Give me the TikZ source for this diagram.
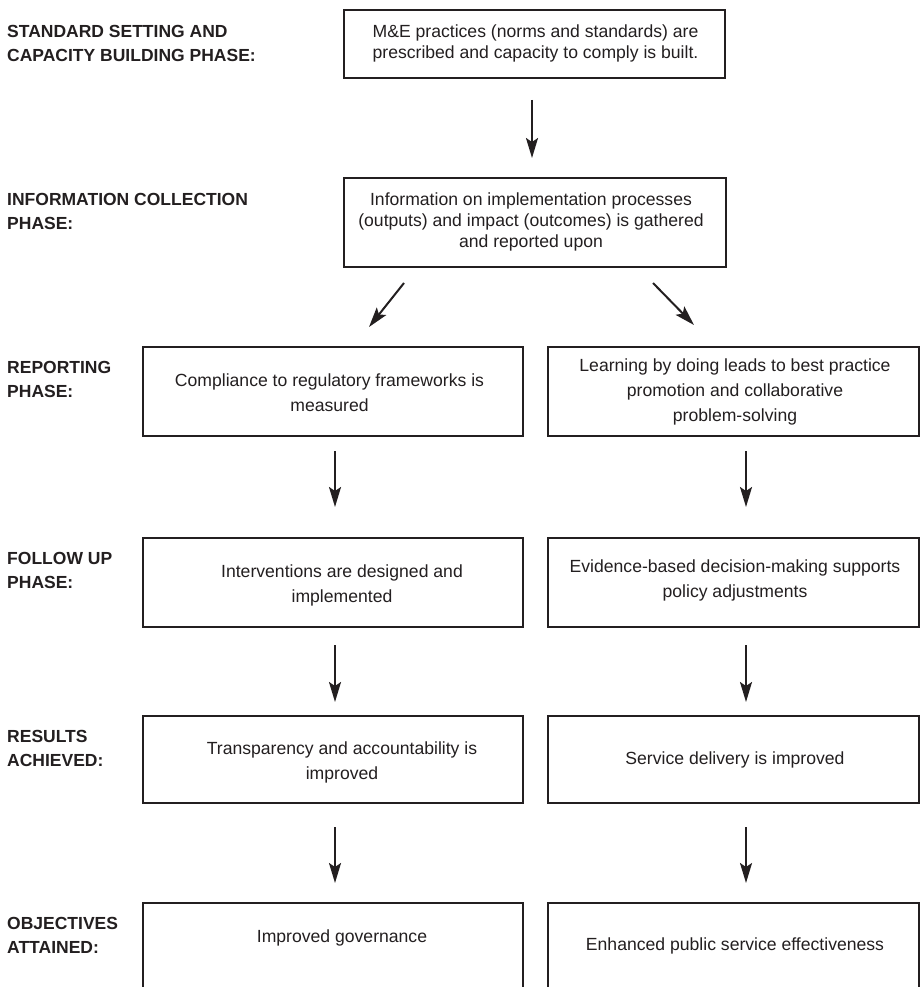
\documentclass[tikz,border=0pt]{standalone}
\usepackage{fontspec}
\setmainfont{Liberation Sans}
\usetikzlibrary{arrows.meta}
\definecolor{ink}{HTML}{231F20}
\begin{document}
\begin{tikzpicture}[x=1pt,y=-1pt,
  box/.style={draw=ink, line width=2.4pt, inner sep=0pt, outer sep=0pt, rectangle},
  txt/.style={align=center, inner sep=0pt, text=ink, font=\fontsize{17.6}{25}\selectfont},
  tighttxt/.style={txt, font=\fontsize{17.6}{21}\selectfont},
  lab/.style={anchor=north west, align=left, inner sep=0pt, text=ink, font=\bfseries\fontsize{17.5}{24.5}\selectfont},
  arr/.style={draw=ink, line width=2pt, -{Stealth[length=20pt,width=12pt,inset=4pt]}}]
\clip (0,0) rectangle (922,987);
\fill[white] (0,0) rectangle (922,987);

% phase labels
\node[lab] (l1) at (7,25) {STANDARD SETTING AND\\CAPACITY BUILDING PHASE:};
\node[lab] (l2) at (7,193) {INFORMATION COLLECTION\\PHASE:};
\node[lab] (l3) at (7,361) {REPORTING\\PHASE:};
\node[lab] (l4) at (7,552) {FOLLOW UP\\PHASE:};
\node[lab] (l5) at (7,730) {RESULTS\\ACHIEVED:};
\node[lab] (l6) at (7,917) {OBJECTIVES\\ATTAINED:};

% boxes
\node[box, minimum width=381pt, minimum height=68pt] (top) at (534.5,44) {};
\node[box, minimum width=382pt, minimum height=89pt] (info) at (535,222.5) {};
\node[box, minimum width=380pt, minimum height=89pt] (rep1) at (333,391.5) {};
\node[box, minimum width=371pt, minimum height=89pt] (rep2) at (733.5,391.5) {};
\node[box, minimum width=380pt, minimum height=89pt] (fu1) at (333,582.5) {};
\node[box, minimum width=371pt, minimum height=89pt] (fu2) at (733.5,582.5) {};
\node[box, minimum width=380pt, minimum height=87pt] (res1) at (333,759.5) {};
\node[box, minimum width=371pt, minimum height=87pt] (res2) at (733.5,759.5) {};
\node[box, minimum width=380pt, minimum height=110pt] (obj1) at (333,958) {};
\node[box, minimum width=371pt, minimum height=110pt] (obj2) at (733.5,958) {};

% texts
\node[tighttxt] (ttop) at (535.5,43.5) {M\&E practices (norms and standards) are\\prescribed and capacity to comply is built.};
\node[tighttxt] (tinfo) at (531,222) {Information on implementation processes\\(outputs) and impact (outcomes) is gathered\\and reported upon};
\node[txt] (trep1) at (329.5,393) {Compliance to regulatory frameworks is\\measured};
\node[txt] (trep2) at (735,392.3) {Learning by doing leads to best practice\\promotion and collaborative\\problem-solving};
\node[txt] (tfu1) at (342,585) {Interventions are designed and\\implemented};
\node[txt] (tfu2) at (735,580) {Evidence-based decision-making supports\\policy adjustments};
\node[txt] (tres1) at (342,762.5) {Transparency and accountability is\\improved};
\node[txt] (tres2) at (735,760) {Service delivery is improved};
\node[txt] (tobj1) at (342,937.5) {Improved governance};
\node[txt] (tobj2) at (735,945.5) {Enhanced public service effectiveness};

% arrows
\draw[arr, shorten <=22pt, shorten >=20pt] ([xshift=-2.5pt]top.south) -- ([xshift=-2.5pt]top.south |- info.north);

\coordinate (d1a) at (404,283);
\coordinate (d1b) at (369,327);
\coordinate (d2a) at (653,283);
\coordinate (d2b) at (694,325);
\draw[arr] (d1a) -- (d1b);
\draw[arr] (d2a) -- (d2b);

\draw[arr, shorten <=15pt, shorten >=31pt] ([xshift=2pt]rep1.south) -- ([xshift=2pt]fu1.north);
\draw[arr, shorten <=15pt, shorten >=31pt] ([xshift=12.5pt]rep2.south) -- ([xshift=12.5pt]fu2.north);
\draw[arr, shorten <=18pt, shorten >=14pt] ([xshift=2pt]fu1.south) -- ([xshift=2pt]res1.north);
\draw[arr, shorten <=18pt, shorten >=14pt] ([xshift=12.5pt]fu2.south) -- ([xshift=12.5pt]res2.north);
\draw[arr, shorten <=24pt, shorten >=20pt] ([xshift=2pt]res1.south) -- ([xshift=2pt]obj1.north);
\draw[arr, shorten <=24pt, shorten >=20pt] ([xshift=12.5pt]res2.south) -- ([xshift=12.5pt]obj2.north);
\end{tikzpicture}
\end{document}
